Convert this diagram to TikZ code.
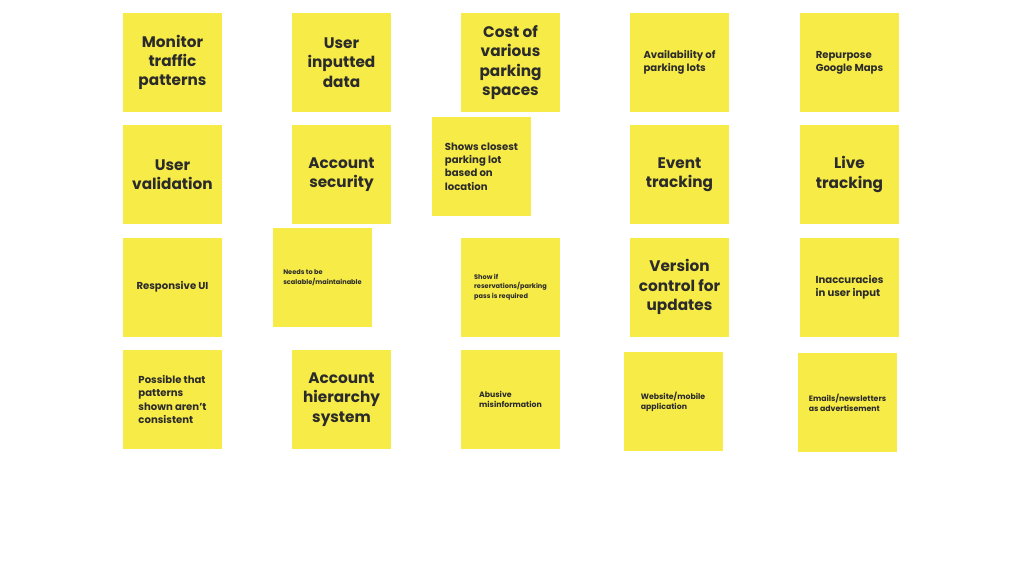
\documentclass[tikz,border=0pt]{standalone}
\usepackage{fontspec}
\setmainfont{Poppins}
\definecolor{stickyyellow}{HTML}{F7EB48}
\definecolor{inkgrey}{HTML}{2B2B2B}

\tikzset{
  sticky/.style={fill=stickyyellow, minimum width=99pt, minimum height=99pt,
    inner sep=0pt, text=inkgrey, align=left, font=\bfseries},
  bigtxt/.style={align=center, font=\fontsize{15.3}{19.2}\selectfont\bfseries},
  midtxt/.style={font=\fontsize{10.1}{13.2}\selectfont\bfseries},
  smalltxt/.style={font=\fontsize{7.8}{10}\selectfont\bfseries},
  tinytxt/.style={font=\fontsize{6.6}{9.4}\selectfont\bfseries}
}

\begin{document}
\begin{tikzpicture}[x=1pt, y=-1pt]

  % === Brainstorm board: parking app sticky notes ===
  \useasboundingbox[fill=white] (0,0) rectangle (1024,576);

  % Row 1
  \node[sticky, bigtxt] (traffic) at (172.5,62.5) {Monitor\\traffic\\patterns};
  \node[sticky, bigtxt] (userdata) at (341.5,62.5) {User\\inputted\\data};
  \node[sticky, bigtxt] (cost) at (510.5,62.5) {Cost of\\various\\parking\\spaces};
  \node[sticky, midtxt] (avail) at (679.5,62.5) {Availability of\\parking lots};
  \node[sticky, midtxt] (gmaps) at (849.5,62.5) {Repurpose\\Google Maps};

  % Row 2
  \node[sticky, bigtxt] (validation) at (172.5,174.5) {User\\validation};
  \node[sticky, bigtxt] (security) at (341.5,174.5) {Account\\security};
  \node[sticky, midtxt] (closest) at (481.5,166.5) {Shows closest\\parking lot\\based on\\location};
  \node[sticky, bigtxt] (events) at (679.5,174.5) {Event\\tracking};
  \node[sticky, bigtxt] (live) at (849.5,174.5) {Live\\tracking};

  % Row 3
  \node[sticky, midtxt] (respui) at (172.5,287) {Responsive UI};
  \node[sticky, tinytxt] (scalable) at (322.5,277.5) {Needs to be\\scalable/maintainable};
  \node[sticky, tinytxt] (reserve) at (510.5,287) {Show if\\reservations/parking\\pass is required};
  \node[sticky, bigtxt] (version) at (679.5,287) {Version\\control for\\updates};
  \node[sticky, midtxt] (inaccurate) at (849.5,287) {Inaccuracies\\in user input};

  % Row 4
  \node[sticky, midtxt] (patterns) at (172.5,399.5) {Possible that\\patterns\\shown aren't\\consistent};
  \node[sticky, bigtxt] (hierarchy) at (341.5,399.5) {Account\\hierarchy\\system};
  \node[sticky, smalltxt] (abuse) at (510.5,399.5) {Abusive\\misinformation};
  \node[sticky, smalltxt] (platform) at (673,401.5) {Website/mobile\\application};
  \node[sticky, smalltxt] (emails) at (847.5,402.5) {Emails/newsletters\\as advertisement};

\end{tikzpicture}
\end{document}
